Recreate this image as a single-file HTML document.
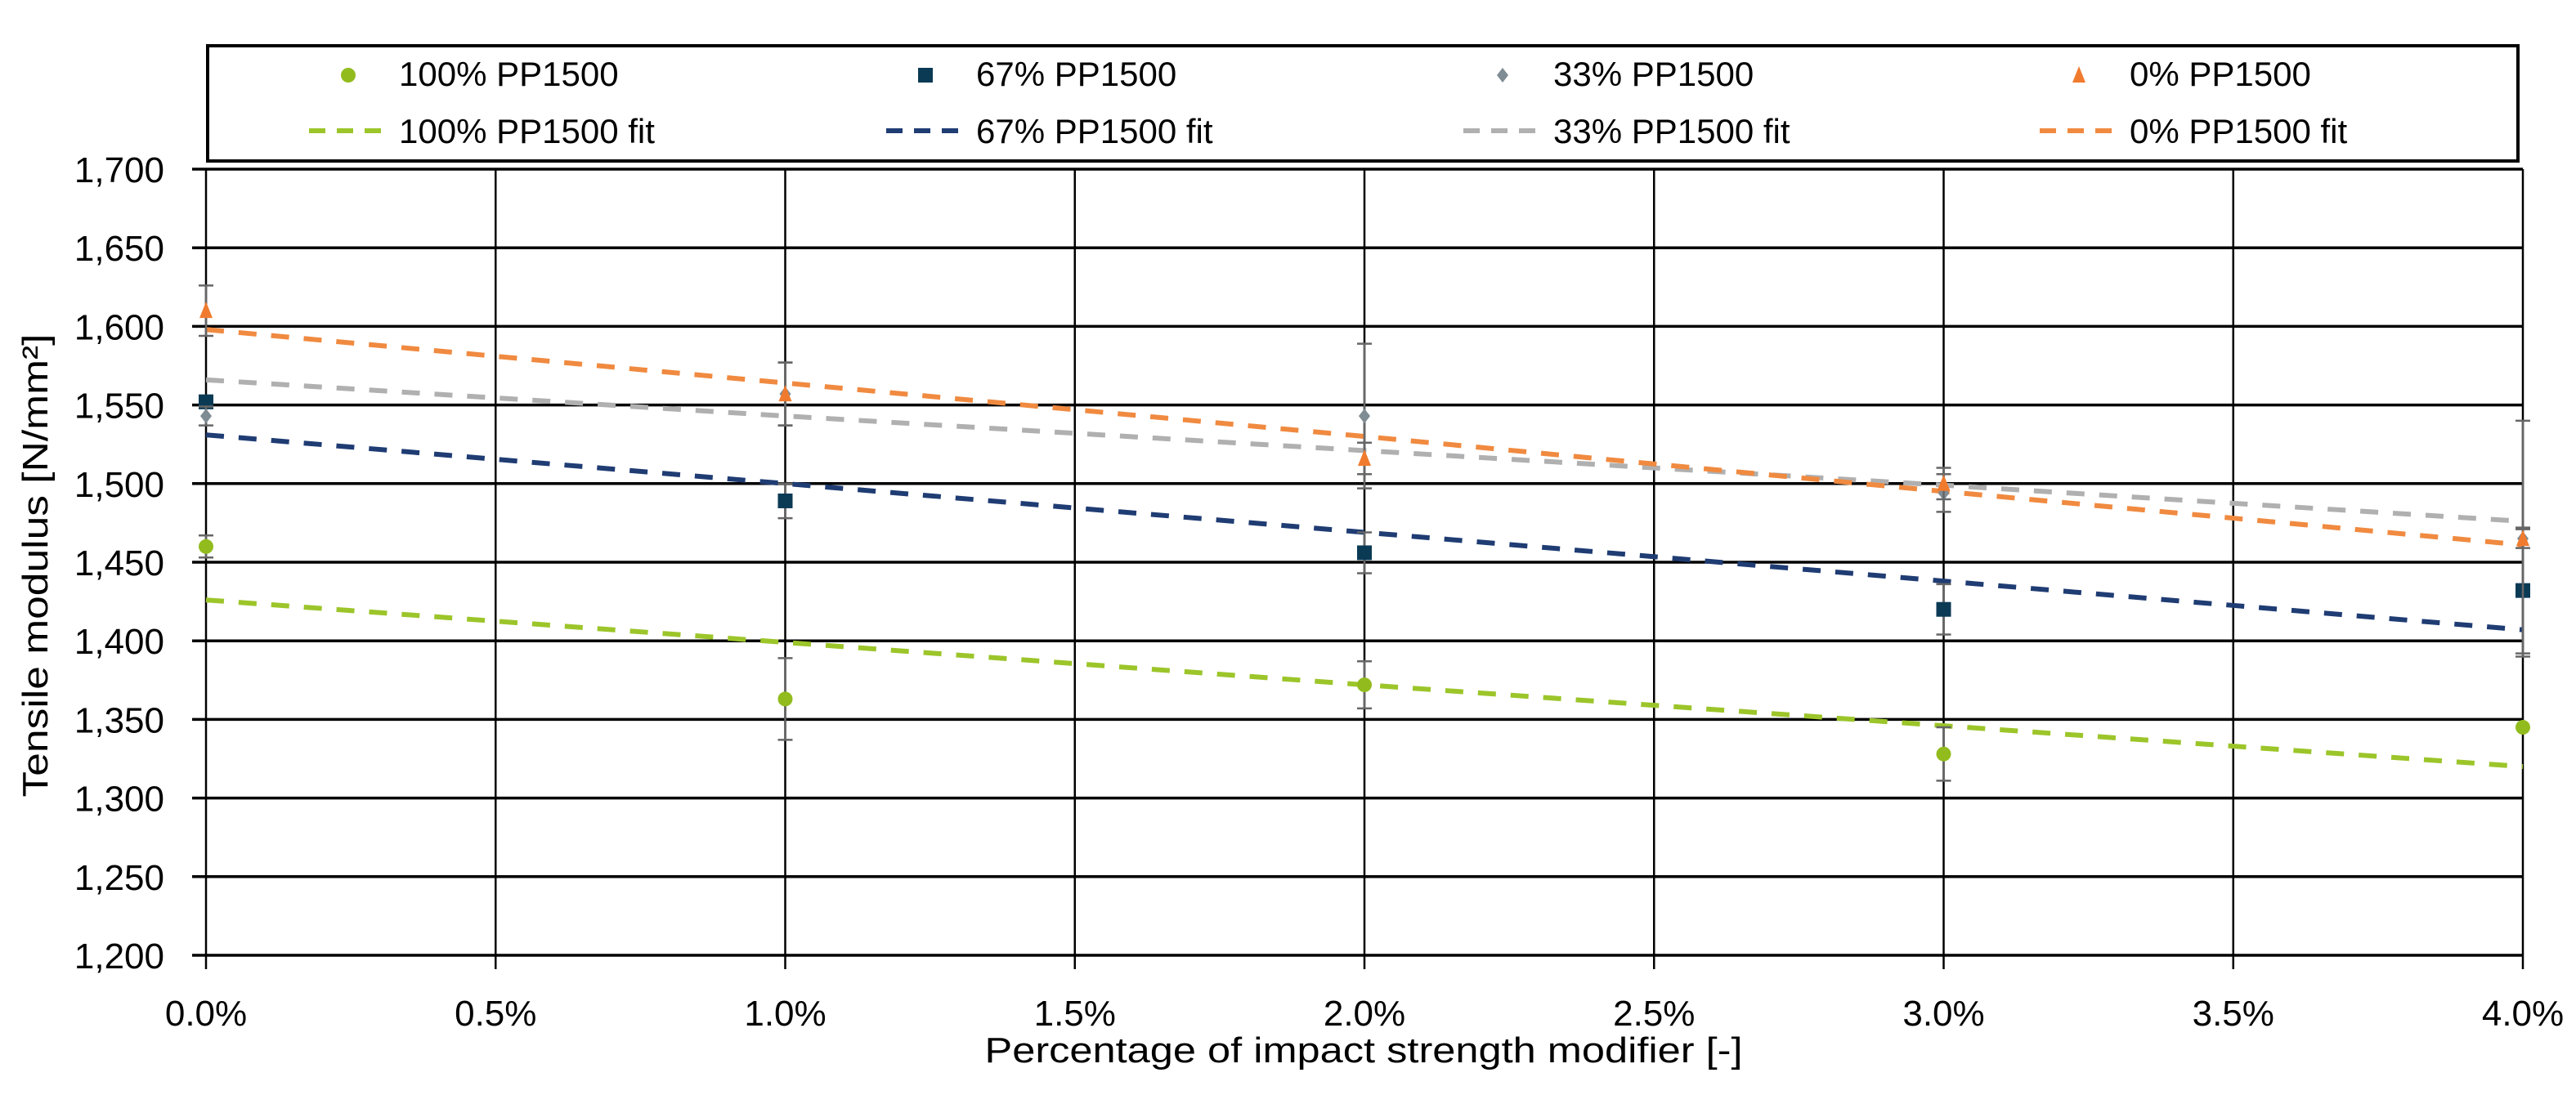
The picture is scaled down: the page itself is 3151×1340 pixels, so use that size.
<!DOCTYPE html>
<html><head><meta charset="utf-8"><style>
html,body{margin:0;padding:0;background:#fff;}
svg{display:block;font-family:"Liberation Sans",sans-serif;}
</style></head><body>
<svg id="chart" width="3151" height="1340" viewBox="0 0 3151 1340">
<g id="grid"></g>
<g id="axes"></g>
<g id="series"></g>
<g id="legend">
<rect x="254" y="56" width="2826" height="141" fill="#fff" stroke="#000" stroke-width="4"/>
</g>
<text x="1668" y="1300" font-size="44" text-anchor="middle" textLength="927" lengthAdjust="spacingAndGlyphs">Percentage of impact strength modifier   [-]</text>
<text transform="translate(58,692) rotate(-90)" font-size="44" text-anchor="middle" textLength="567" lengthAdjust="spacingAndGlyphs">Tensile modulus  [N/mm²]</text>
</svg>
<script>
const categories=[0,1,2,3,4];
const xTicks=[0,0.5,1,1.5,2,2.5,3,3.5,4];
const xTickLabels=["0.0%","0.5%","1.0%","1.5%","2.0%","2.5%","3.0%","3.5%","4.0%"];
const yTicks=[1200,1250,1300,1350,1400,1450,1500,1550,1600,1650,1700];
const yTickLabels=["1,200","1,250","1,300","1,350","1,400","1,450","1,500","1,550","1,600","1,650","1,700"];
const seriesNames=["100% PP1500","67% PP1500","33% PP1500","0% PP1500"];
const vals100=[1460,1363,1372,1328,1345];
const vals67=[1552,1489,1456,1420,1432];
const vals33=[1543,1557,1543,1494,1465];
const vals0=[1610,1557,1516,1500,1465];
const err100=[7,26,15,17,0];
const err67=[4,11,13,16,40];
const err33=[6,20,46,12,75];
const err0=[16,20,10,10,6];
const fit100=[1426,1399,1372,1346,1320];
const fit67=[1531,1500,1469,1438,1407];
const fit33=[1566,1543,1521,1499,1476];
const fit0=[1598,1564,1530,1495,1461];

const NS="http://www.w3.org/2000/svg";
const X0=252,X1=3086,Y0=1169,Y1=207;
const xs=v=>X0+(v-0)/(4-0)*(X1-X0);
const ys=v=>Y0-(v-1200)/(1700-1200)*(Y0-Y1);
function el(tag,attrs,parent){const e=document.createElementNS(NS,tag);for(const k in attrs)e.setAttribute(k,attrs[k]);parent.appendChild(e);return e;}
const grid=document.getElementById('grid'),axes=document.getElementById('axes'),ser=document.getElementById('series'),leg=document.getElementById('legend');

yTicks.forEach((t,i)=>{
  const l=el('line',{x1:X0-17,x2:X1,y1:ys(t),y2:ys(t),stroke:'#000','stroke-width':3.5},grid);
  
  
  const tx=el('text',{x:201,y:ys(t)+16,'font-size':44,'text-anchor':'end'},axes);
  tx.textContent=yTickLabels[i];
  
  
});
xTicks.forEach((t,i)=>{
  const l=el('line',{x1:xs(t),x2:xs(t),y1:Y1,y2:Y0+17,stroke:'#000','stroke-width':2.5},grid);
  
  
  const tx=el('text',{x:xs(t),y:1255,'font-size':44,'text-anchor':'middle'},axes);
  tx.textContent=xTickLabels[i];
  
  
});

const defs=[
 {vals:vals100,err:err100,fit:fit100,mc:'#92BC1E',fc:'#9CC52A',shape:'circle',key:'100'},
 {vals:vals67,err:err67,fit:fit67,mc:'#0B3A55',fc:'#1F3C73',shape:'square',key:'67'},
 {vals:vals33,err:err33,fit:fit33,mc:'#7F8C94',fc:'#B0B0B0',shape:'diamond',key:'33'},
 {vals:vals0,err:err0,fit:fit0,mc:'#F07B2E',fc:'#F08A40',shape:'triangle',key:'0'}
];
function marker(shape,cx,cy,c,parent){
  if(shape==='circle')return el('ellipse',{cx:cx,cy:cy,rx:9,ry:9,fill:c},parent);
  if(shape==='square')return el('rect',{x:cx-9,y:cy-9,width:18,height:18,fill:c},parent);
  if(shape==='diamond')return el('polygon',{points:`${cx},${cy-9} ${cx+7},${cy} ${cx},${cy+9} ${cx-7},${cy}`,fill:c},parent);
  return el('polygon',{points:`${cx},${cy-11} ${cx+8},${cy+9} ${cx-8},${cy+9}`,fill:c},parent);
}
defs.forEach(d=>{
  const pts=categories.map((c,i)=>xs(c)+','+ys(d.fit[i])).join(' ');
  const pl=el('polyline',{points:pts,fill:'none',stroke:d.fc,'stroke-width':6,'stroke-dasharray':'22 18'},ser);
  
  
});
defs.forEach(d=>{
  categories.forEach((c,i)=>{
    if(d.err[i]>0){
      const g=el('g',{stroke:'#666','stroke-width':2.5},ser);
      
      
      const x=xs(c),a=ys(d.vals[i]+d.err[i]),b=ys(d.vals[i]-d.err[i]);
      el('line',{x1:x,x2:x,y1:a,y2:b},g);
      el('line',{x1:x-9,x2:x+9,y1:a,y2:a},g);
      el('line',{x1:x-9,x2:x+9,y1:b,y2:b},g);
    }
    const m=marker(d.shape,xs(c),ys(d.vals[i]),d.mc,ser);
    
    
  });
});
const colX=[488,1194,1900,2605];
defs.forEach((d,i)=>{
  const mk=marker(d.shape,colX[i]-62,92,d.mc,leg);
  
  
  const t=el('text',{x:colX[i],y:105,'font-size':42},leg);
  t.textContent=seriesNames[i];
  
  
  const ln=el('line',{x1:colX[i]-110,x2:colX[i]-10,y1:160,y2:160,stroke:d.fc,'stroke-width':6,'stroke-dasharray':'20 14'},leg);
  
  
  const t2=el('text',{x:colX[i],y:175,'font-size':42},leg);
  t2.textContent=seriesNames[i]+' fit';
  
  
});
</script>
</body></html>
